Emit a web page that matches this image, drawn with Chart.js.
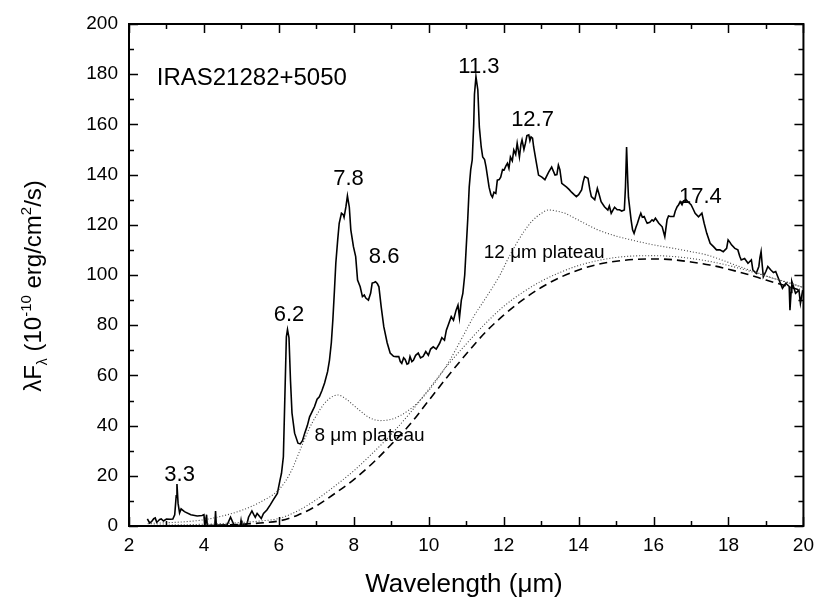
<!DOCTYPE html>
<html><head><meta charset="utf-8">
<script src="https://cdn.jsdelivr.net/npm/chart.js@4.4.0/dist/chart.umd.min.js"></script>
<style>html,body{margin:0;padding:0;background:#fff;}#wrap{width:822px;height:598px;position:relative;}</style>
</head><body><div id="wrap"><canvas id="c" width="822" height="598"></canvas></div>
<script>
// ---------- data ----------
const specWave = [2.49,2.55,2.6,2.66,2.7,2.74,2.77,2.82,2.86,2.92,3.0,3.1,3.17,3.22,3.26,3.28,3.31,3.35,3.39,3.48,3.65,3.82,3.95,4.0,4.03,4.05,4.07,4.09,4.2,4.29,4.31,4.33,4.5,4.62,4.71,4.8,4.9,4.97,4.99,5.01,5.1,5.15,5.19,5.28,5.33,5.37,5.42,5.46,5.53,5.59,5.68,5.77,5.85,5.96,6.03,6.07,6.12,6.16,6.2,6.23,6.27,6.31,6.35,6.42,6.51,6.57,6.63,6.69,6.76,6.82,6.9,6.95,7.02,7.08,7.15,7.22,7.3,7.35,7.4,7.44,7.48,7.52,7.57,7.61,7.67,7.72,7.74,7.79,7.83,7.88,7.92,7.99,8.05,8.1,8.17,8.23,8.28,8.32,8.39,8.45,8.49,8.54,8.58,8.63,8.67,8.73,8.8,8.89,8.97,9.06,9.13,9.2,9.24,9.28,9.33,9.37,9.42,9.46,9.5,9.55,9.59,9.65,9.72,9.78,9.85,9.92,9.99,10.05,10.12,10.2,10.29,10.35,10.42,10.47,10.53,10.6,10.66,10.73,10.78,10.82,10.87,10.91,10.96,11.0,11.04,11.08,11.12,11.16,11.2,11.22,11.26,11.31,11.35,11.4,11.44,11.49,11.53,11.57,11.61,11.66,11.7,11.74,11.79,11.83,11.88,11.92,11.97,12.01,12.06,12.1,12.14,12.18,12.23,12.27,12.32,12.36,12.42,12.46,12.49,12.54,12.58,12.62,12.67,12.7,12.73,12.77,12.8,12.86,12.93,13.02,13.1,13.2,13.28,13.37,13.42,13.46,13.5,13.55,13.68,13.75,13.81,13.88,13.94,14.0,14.08,14.12,14.16,14.25,14.3,14.34,14.43,14.5,14.55,14.6,14.69,14.78,14.82,14.87,14.96,15.03,15.09,15.15,15.22,15.25,15.28,15.31,15.33,15.4,15.44,15.48,15.53,15.57,15.62,15.66,15.7,15.75,15.8,15.83,15.9,15.96,16.0,16.05,16.1,16.14,16.23,16.3,16.36,16.4,16.45,16.54,16.58,16.63,16.67,16.71,16.76,16.8,16.87,16.93,17.0,17.05,17.11,17.2,17.29,17.35,17.42,17.51,17.6,17.68,17.77,17.86,17.95,17.99,18.04,18.08,18.17,18.25,18.3,18.34,18.43,18.52,18.61,18.65,18.74,18.81,18.84,18.87,18.9,18.93,19.0,19.05,19.13,19.2,19.26,19.35,19.44,19.53,19.62,19.64,19.67,19.69,19.79,19.88,19.92,19.98];
const specFlux = [2.8,1.2,1.7,2.9,3.2,1.5,1.9,2.6,2.8,2.0,2.8,2.7,2.8,4.5,12,16.7,9,5.2,6.8,5.7,4.5,4.0,4.2,4.5,0,0,4.5,0,0.3,0.2,6,0.3,0.4,0.5,3.5,0.5,0.3,0.3,2.2,0.2,0.4,0.8,3.5,6,4.5,3.5,5,4.3,3.0,5,6.4,8.4,10.4,13,18.3,21,27.6,51.5,75.4,78.3,75,58,45,37,33,32.7,34,37,40,43.5,46,47.5,50.5,51.5,54,57,61.5,66,73,82,93,104.8,114,120.6,124.6,124,123,127.2,131.5,127,118,111.3,107.3,98,95.3,91.4,92,90.8,90,92.8,96.8,97,97.3,96.5,95.3,87.4,79.4,73,68.9,67.6,67.5,67.5,65.5,64.8,67,66.4,64.5,64.8,67.5,65.5,66,68,68.9,67,67.6,69.5,68,70.5,71.4,70.5,72.8,75,74,78,80.5,83.4,82,86,88,83,90,92.7,100,111,122,135,142,145.8,160,172,179,173.7,159,151,147,146,143,139,135,132,131,133,132.5,137.8,138,139,142,141.8,143.5,144.5,142.5,147,145.5,149.8,148,152.5,147,152,153.8,150,152.5,155.5,155.8,153.5,155,154.5,151,145.8,139.8,139,138,141,143,139.8,140,143.8,142,136.5,135,134,133,132,131.2,132,133.9,137,139.2,138.5,134,131.2,130,134.5,132,129.2,127.2,125.9,127.5,124.6,127,126,126,125.5,125.9,135,151,138,131,122,118,116.6,119,120.6,123,124.6,123,123.3,121.5,120.6,121,122,121.5,122.6,121.5,120.6,119.2,115.3,122,123.5,123.3,123.3,125.5,127.2,128,129.2,128,129.5,130,129,128,126.5,124.6,123.2,124.6,120.6,116.6,112.6,111.3,110,110,109.3,110.6,114,113,112,110.6,110,107.5,106,106.6,104.7,106,102,100.7,103.4,107,109.3,104,99.3,101.5,103.4,102,101,101.4,98,94.7,96.7,95.4,86,93,97.4,92.7,94,88.7,94];

// continuum + 8 and 12 micron plateaus (upper dotted)
const plateauWave = [2.5,3,3.5,4,4.5,5,5.5,6.0,6.3,6.6,6.8,7.0,7.2,7.4,7.57,7.8,8.0,8.2,8.4,8.7,9.0,9.24,9.5,9.7,10.0,10.3,10.56,10.8,11.0,11.2,11.44,11.7,11.9,12.1,12.32,12.55,12.76,13.0,13.2,13.4,13.64,13.85,14.08,14.3,14.51,15.0,15.4,16.0,16.54,17.0,17.42,18.0,18.3,18.7,19.18,19.6,20.0];
const plateauFlux = [1.0,1.3,1.7,2.5,4,6.2,9.5,14.5,21,31.5,38.5,44,48.5,51.3,52.2,50.5,48,45.5,43.3,42,42.5,44,46.5,49,54,60,66,72.5,78,83.5,89,95,100,106,112,117.5,121.5,124.5,125.9,125.5,124.6,123,121.2,119.5,118,115.5,114,112,110.6,109.3,108,105,103.3,101.3,98.7,97,95];
// second dotted curve
const dustWave = [2.5,3,3.5,4,4.5,5,5.5,6,6.5,7,7.5,8,8.5,9,9.5,10,10.5,11,11.5,12,12.5,13,13.5,14,14.5,15,15.5,16,16.5,17,17.5,18,18.5,19,19.5,20];
const dustFlux = [0.3,0.4,0.5,0.7,1,1.4,2,3,6,10.5,16,22,29,36.5,45,54.5,64,72.5,80.5,87.5,93,97.5,101,103.8,105.7,107,107.6,107.7,107.4,106.6,105.4,103.8,101.8,99.6,97.3,95];
// dashed continuum
const contWave = [4,4.5,5,5.5,6,6.5,7,7.5,8,8.5,9,9.5,10,10.5,11,11.5,12,12.5,13,13.5,14,14.5,15,15.5,16,16.5,17,17.5,18,18.5,19,19.5,20];
const contFlux = [0.1,0.3,0.7,1.2,2,4.3,8,13,18.5,25,32.5,40.5,50,59.5,68.5,77,84,90,95,99,102,104.2,105.5,106.2,106.4,106.1,105.2,104,102.3,100.3,98,95.8,93.5];

const xTickStep = 2, yTickStep = 20;
const peakLabels = ['3.3','6.2','7.8','8.6','11.3','12.7','17.4'];
const peakLabelX = [3.35,6.27,7.86,8.81,11.34,12.77,17.25];
const peakLabelY = [20.3,84,138.2,107.2,182.9,161.8,131];
const plateauLabels = ['8 \u03bcm plateau','12 \u03bcm plateau'];
const plateauLabelX = [8.42,13.08];
const plateauLabelY = [35.9,109.0];
const objectName = 'IRAS21282+5050';
const objectX = 2.74, objectY = 178.5;

// ---------- chart ----------
const FONT = '"Liberation Sans", Arial, Helvetica, sans-serif';
Chart.defaults.font.family = FONT;
const pts = (w, f) => w.map((v, i) => ({x: v, y: f[i]}));

function richText(ctx, segs) {
  let total = 0;
  segs.forEach(s => { ctx.font = s.size + 'px ' + FONT; s.w = ctx.measureText(s.t).width; total += s.w; });
  let x = -total / 2;
  segs.forEach(s => { ctx.font = s.size + 'px ' + FONT; ctx.fillText(s.t, x, (s.dy || 0)); x += s.w; });
}

const decor = {
  id: 'decor',
  afterDatasetsDraw(chart) {
    const {ctx, chartArea: a, scales: {x, y}} = chart;
    ctx.save();
    ctx.strokeStyle = '#000';
    ctx.lineWidth = 1.5;
    ctx.beginPath();
    for (let v = x.min; v <= x.max + 1e-9; v += xTickStep / 2) {
      const px = Math.round(x.getPixelForValue(v)) + 0.5;
      const major = Math.abs(v / xTickStep - Math.round(v / xTickStep)) < 1e-6;
      const L = major ? 9 : 5;
      ctx.moveTo(px, a.bottom); ctx.lineTo(px, a.bottom - L);
      ctx.moveTo(px, a.top); ctx.lineTo(px, a.top + L);
    }
    for (let v = y.min; v <= y.max + 1e-9; v += yTickStep / 2) {
      const py = Math.round(y.getPixelForValue(v)) + 0.5;
      const major = Math.abs(v / yTickStep - Math.round(v / yTickStep)) < 1e-6;
      const L = major ? 9 : 5;
      ctx.moveTo(a.left, py); ctx.lineTo(a.left + L, py);
      ctx.moveTo(a.right, py); ctx.lineTo(a.right - L, py);
    }
    ctx.stroke();
    ctx.lineWidth = 2;
    ctx.strokeRect(a.left, a.top, a.right - a.left, a.bottom - a.top);

    ctx.fillStyle = '#000';
    ctx.textBaseline = 'middle';
    ctx.textAlign = 'center';
    ctx.font = '22px ' + FONT;
    peakLabels.forEach((t, i) => ctx.fillText(t, x.getPixelForValue(peakLabelX[i]), y.getPixelForValue(peakLabelY[i])));
    ctx.font = '19px ' + FONT;
    plateauLabels.forEach((t, i) => ctx.fillText(t, x.getPixelForValue(plateauLabelX[i]), y.getPixelForValue(plateauLabelY[i])));
    ctx.textAlign = 'left';
    ctx.font = '24px ' + FONT;
    ctx.fillText(objectName, x.getPixelForValue(objectX), y.getPixelForValue(objectY));

    // axis titles
    ctx.textAlign = 'left';
    ctx.textBaseline = 'alphabetic';
    ctx.save();
    ctx.translate(464, 592);
    richText(ctx, [{t: 'Wavelength (\u03bcm)', size: 26}]);
    ctx.restore();
    ctx.save();
    ctx.translate(41, 286);
    ctx.rotate(-Math.PI / 2);
    richText(ctx, [
      {t: '\u03bbF', size: 24},
      {t: '\u03bb', size: 14, dy: 6},
      {t: ' (10', size: 24},
      {t: '-10', size: 15, dy: -10},
      {t: ' erg/cm', size: 24},
      {t: '2', size: 15, dy: -10},
      {t: '/s)', size: 24}
    ]);
    ctx.restore();
    ctx.restore();
  }
};

new Chart(document.getElementById('c'), {
  type: 'line',
  data: {
    datasets: [
      {data: pts(contWave, contFlux), borderColor: '#000', borderWidth: 1.6, borderDash: [8, 5], pointRadius: 0, cubicInterpolationMode: 'monotone', fill: false},
      {data: pts(dustWave, dustFlux), borderColor: '#444', borderWidth: 1.1, borderDash: [1, 2], pointRadius: 0, cubicInterpolationMode: 'monotone', fill: false},
      {data: pts(plateauWave, plateauFlux), borderColor: '#444', borderWidth: 1.1, borderDash: [1, 2], pointRadius: 0, cubicInterpolationMode: 'monotone', fill: false},
      {data: pts(specWave, specFlux), borderColor: '#000', borderWidth: 1.6, pointRadius: 0, tension: 0, fill: false}
    ]
  },
  options: {
    responsive: false,
    animation: false,
    events: [],
    layout: {padding: {top: 24, right: 11, left: 0, bottom: 0}},
    plugins: {legend: {display: false}, tooltip: {enabled: false}},
    scales: {
      x: {
        type: 'linear', min: 2, max: 20,
        afterFit: s => { s.height = 72; },
        grid: {display: false, drawTicks: false},
        border: {display: false},
        ticks: {stepSize: xTickStep, padding: 8, color: '#000', font: {size: 19, family: FONT}, maxRotation: 0}
      },
      y: {
        type: 'linear', min: 0, max: 200,
        afterFit: s => { s.width = 129; },
        grid: {display: false, drawTicks: false},
        border: {display: false},
        ticks: {stepSize: yTickStep, padding: 11, color: '#000', font: {size: 19, family: FONT}}
      }
    }
  },
  plugins: [decor]
});
</script>
</body></html>
